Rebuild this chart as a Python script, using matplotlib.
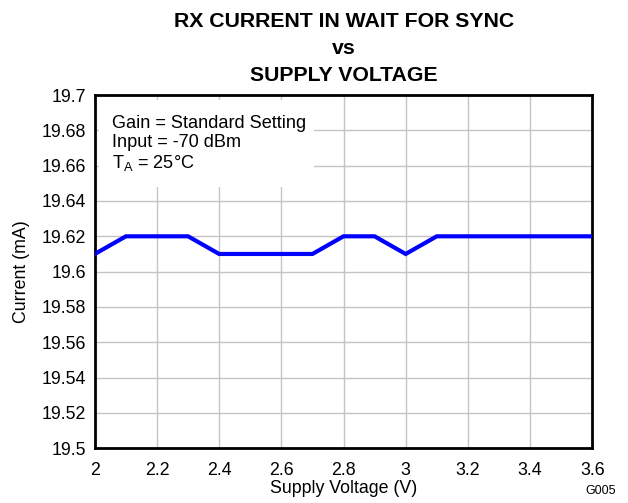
import matplotlib.pyplot as plt
import matplotlib.patches as patches

plt.rcParams['font.family'] = ['Liberation Sans', 'DejaVu Sans']

# Data
voltage = [2.0, 2.1, 2.2, 2.3, 2.4, 2.5, 2.6, 2.7, 2.8, 2.9, 3.0, 3.1, 3.2, 3.3, 3.4, 3.5, 3.6]
current = [19.61, 19.62, 19.62, 19.62, 19.61, 19.61, 19.61, 19.61, 19.62, 19.62, 19.61, 19.62,
           19.62, 19.62, 19.62, 19.62, 19.62]
x_ticks = [2, 2.2, 2.4, 2.6, 2.8, 3, 3.2, 3.4, 3.6]
y_ticks = [19.5, 19.52, 19.54, 19.56, 19.58, 19.6, 19.62, 19.64, 19.66, 19.68, 19.7]

fig = plt.figure(figsize=(6.28, 5.03), dpi=100)
ax = fig.add_axes([0.151, 0.109, 0.792, 0.702])

ax.plot(voltage, current, color='#0000FF', lw=3, solid_joinstyle='miter', zorder=3)

ax.set_xlim(2, 3.6)
ax.set_ylim(19.5, 19.7)
ax.set_xticks(x_ticks)
ax.set_xticklabels(['2', '2.2', '2.4', '2.6', '2.8', '3', '3.2', '3.4', '3.6'])
ax.set_yticks(y_ticks)
ax.set_yticklabels(['19.5', '19.52', '19.54', '19.56', '19.58', '19.6', '19.62',
                    '19.64', '19.66', '19.68', '19.7'])
ax.tick_params(length=0, labelsize=12.8)
ax.tick_params(axis='x', pad=10)
ax.tick_params(axis='y', pad=6)
ax.grid(True, color='#c4c4c4', lw=1)
ax.set_axisbelow(True)
for s in ax.spines.values():
    s.set_linewidth(2)

# white box behind the conditions text
ax.add_patch(patches.Rectangle((2.015, 19.648), 0.69, 0.049, facecolor='white',
                               edgecolor='none', zorder=2))
ax.text(2.055, 19.6722, 'Gain = Standard Setting\nInput = -70 dBm\n$\\mathregular{T_A}$ = 25°C',
        fontsize=13.1, va='center', ha='left', linespacing=1.12, zorder=4)

ax.set_xlabel('Supply Voltage (V)', fontsize=12.8, labelpad=1)
ax.set_ylabel('Current (mA)', fontsize=12.8, labelpad=9)

fig.text(0.548, 0.957, 'RX CURRENT IN WAIT FOR SYNC', ha='center', va='center',
         fontsize=15.3, fontweight='bold')
fig.text(0.548, 0.903, 'vs', ha='center', va='center', fontsize=15.3, fontweight='bold')
fig.text(0.548, 0.849, 'SUPPLY VOLTAGE', ha='center', va='center', fontsize=15.3, fontweight='bold')
fig.text(0.98, 0.012, 'G005', ha='right', va='bottom', fontsize=9)

fig.savefig('out.png', dpi=100)
